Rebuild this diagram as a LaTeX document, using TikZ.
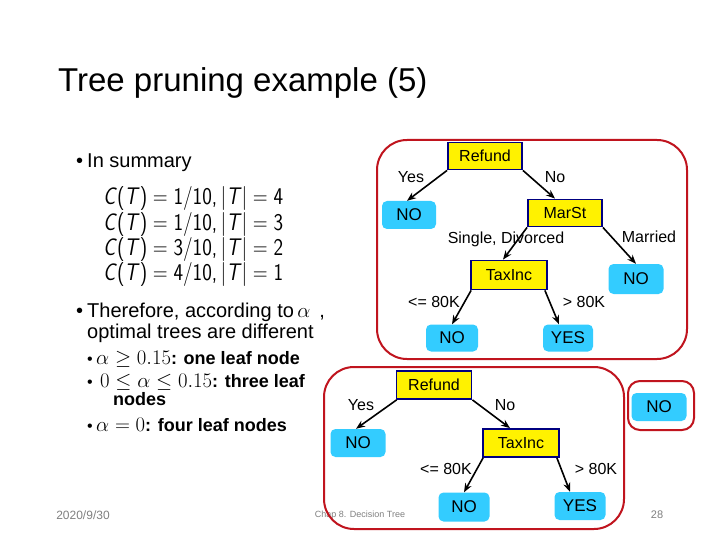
\documentclass[tikz,border=0pt]{standalone}
\usepackage{fontspec}
\setmainfont{Liberation Sans}
\usetikzlibrary{arrows.meta}
\definecolor{leafblue}{RGB}{51,204,255}
\definecolor{boxblue}{RGB}{0,0,128}
\definecolor{framered}{RGB}{192,20,30}
\newcommand\pxs[1]{\fontsize{#1}{#1}\selectfont}
\begin{document}
\begin{tikzpicture}[x=1pt,y=-1pt,
  dec/.style={draw=boxblue,line width=1.8pt,fill=yellow,minimum width=74pt,minimum height=27pt,inner sep=0pt,font=\pxs{16}},
  leaf/.style={fill=leafblue,rounded corners=5pt,minimum width=54pt,minimum height=28pt,inner sep=0pt,font=\pxs{17}},
  edge/.style={line width=1.6pt,-{Stealth[length=9pt,width=7pt]}},
  lbl/.style={inner sep=0pt,font=\pxs{16}},
  frame/.style={draw=framered,line width=2pt,rounded corners=30pt},
  txt/.style={anchor=base west,inner sep=0pt,font=\pxs{20}},
  sub/.style={anchor=base west,inner sep=0pt,font=\pxs{18}\bfseries},
  bul/.style={anchor=base west,inner sep=0pt},
  foot/.style={inner sep=0pt,text=gray}
]
\useasboundingbox[fill=white] (0,0) rectangle (720,540);

% title and left text
\node[anchor=base west,inner sep=0pt,font=\pxs{33}] (title) at (58,92) {Tree pruning example (5)};
\node[bul,font=\pxs{20}] (b0) at (76,168) {•};
\node[txt] (sum) at (87,168) {In summary};
\node[anchor=base west,inner sep=0pt,font=\sffamily\pxs{24}] (c1) at (103,205) {\scalebox{0.85}[1]{\textit{C}(\textit{T})\;=\;1/10,\,|\textit{T}|\;=\;4}};
\node[anchor=base west,inner sep=0pt,font=\sffamily\pxs{24}] (c2) at (103,230) {\scalebox{0.85}[1]{\textit{C}(\textit{T})\;=\;1/10,\,|\textit{T}|\;=\;3}};
\node[anchor=base west,inner sep=0pt,font=\sffamily\pxs{24}] (c3) at (103,255) {\scalebox{0.85}[1]{\textit{C}(\textit{T})\;=\;3/10,\,|\textit{T}|\;=\;2}};
\node[anchor=base west,inner sep=0pt,font=\sffamily\pxs{24}] (c4) at (103,280) {\scalebox{0.85}[1]{\textit{C}(\textit{T})\;=\;4/10,\,|\textit{T}|\;=\;1}};

\node[bul,font=\pxs{20}] (b1) at (76,317) {•};
\node[txt] (there1) at (87,317) {Therefore, according to\,{\pxs{22}$\alpha$}\hspace{9pt},};
\node[txt] (there2) at (87,338) {optimal trees are different};

\node[bul,font=\pxs{16}] (b2) at (87,364) {•};
\node[sub] (s1) at (96,364) {{\pxs{22}$\alpha\geq0.15$}: one leaf node};
\node[bul,font=\pxs{16}] (b3) at (87,387) {•};
\node[sub] (s2) at (100,387) {{\pxs{22}$0\leq\alpha\leq0.15$}: three leaf};
\node[sub] (s2b) at (113,405) {nodes};
\node[bul,font=\pxs{16}] (b4) at (87,431) {•};
\node[sub] (s3) at (96,431) {{\pxs{22}$\alpha=0$}: four leaf nodes};

% footer
\node[foot,font=\pxs{12}] (date) at (83,515) {2020/9/30};
\node[foot,font=\pxs{9}] (chap) at (360,515) {Chap 8. Decision Tree};
\node[foot,font=\pxs{11}] (page) at (657,515) {28};

% frames
\draw[frame] (377,140) rectangle (687,359);
\draw[frame] (324,367) rectangle (624,529);
\draw[frame,rounded corners=12pt] (628,381) rectangle (694,430);

% top tree
\node[dec] (R1) at (485,156) {Refund};
\node[leaf] (N1) at (409,215) {NO};
\node[dec] (M1) at (565,213) {MarSt};
\node[leaf,minimum width=55pt,minimum height=30pt] (N2) at (636,279) {NO};
\node[dec,minimum width=76pt,minimum height=29pt] (T1) at (509,275) {TaxInc};
\node[leaf,minimum width=52pt,minimum height=27pt] (N3) at (452,338) {NO};
\node[leaf,minimum width=50pt,minimum height=27pt] (Y1) at (568,338) {YES};

\draw[edge] (R1.south west) -- ([xshift=-2pt]N1.north);
\draw[edge] (R1.south east) -- ([xshift=-10pt]M1.north);
\draw[edge] (M1.south west) -- ([xshift=-6pt]T1.north);
\draw[edge] (M1.south east) -- (N2.north);
\draw[edge] ([xshift=1pt]T1.south west) -- (N3.north);
\draw[edge] ([xshift=-3pt]T1.south east) -- ([xshift=-9pt]Y1.north);

\node[lbl] (l1) at (411,177) {Yes};
\node[lbl] (l2) at (555,177) {No};
\node[lbl] (l3) at (506,239) {Single, Divorced};
\node[lbl] (l4) at (649,237) {Married};
\node[lbl] (l5) at (434,302) {<= 80K};
\node[lbl] (l6) at (584,302) {> 80K};

% bottom tree
\node[dec,minimum width=75pt,minimum height=28pt] (R2) at (434,385) {Refund};
\node[leaf,minimum width=55pt] (N4) at (358,443) {NO};
\node[dec,minimum width=76pt,minimum height=28pt] (T2) at (521,443) {TaxInc};
\node[leaf,minimum width=51pt,minimum height=29pt] (N5) at (464,507) {NO};
\node[leaf,minimum width=51pt] (Y2) at (580,506) {YES};
\node[leaf,minimum width=55pt] (N6) at (659,407) {NO};

\draw[edge] ([xshift=1pt]R2.south west) -- ([xshift=-2pt]N4.north);
\draw[edge] (R2.south east) -- ([xshift=-11pt]T2.north);
\draw[edge] ([xshift=1pt]T2.south west) -- (N5.north);
\draw[edge] ([xshift=-3pt]T2.south east) -- ([xshift=-10pt]Y2.north);

\node[lbl] (l7) at (361,405) {Yes};
\node[lbl] (l8) at (505,405) {No};
\node[lbl] (l9) at (446,469) {<= 80K};
\node[lbl] (l10) at (596,469) {> 80K};
\end{tikzpicture}
\end{document}
